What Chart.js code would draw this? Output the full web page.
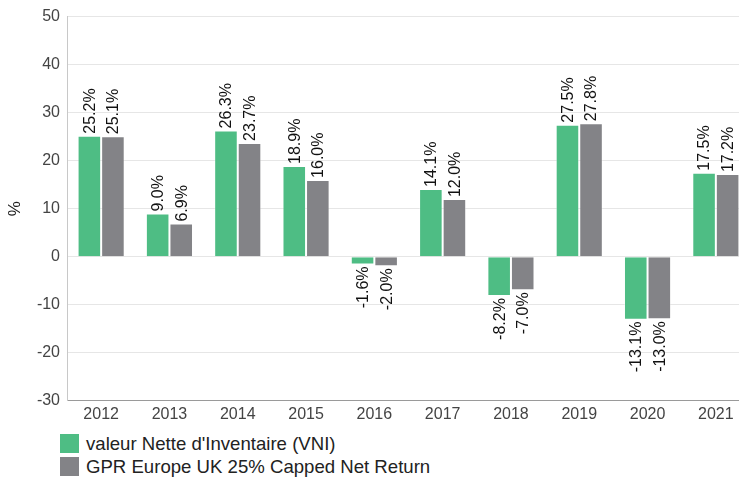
<!DOCTYPE html>
<html>
<head>
<meta charset="utf-8">
<script src="https://cdn.jsdelivr.net/npm/chart.js@4"></script>
<style>
  html, body { margin: 0; padding: 0; background: #fff; overflow: hidden; }
  #wrap { position: relative; width: 750px; height: 478px; }
  #box { position: absolute; left: 0; top: 0; width: 750px; height: 428px; }
  #legend { position: absolute; left: 60px; top: 432px; font-family: "Liberation Sans", Arial, sans-serif; font-size: 18.6px; color: #222; }
  #legend div { display: flex; align-items: center; height: 23px; }
  #legend span.sw { display: inline-block; width: 19px; height: 19px; margin-right: 7px; }
</style>
</head>
<body>
<div id="wrap">
  <div id="box"><canvas id="chart"></canvas></div>
  <div id="legend"></div>
</div>
<script>
const years = ["2012", "2013", "2014", "2015", "2016", "2017", "2018", "2019", "2020", "2021"];
const vni = [25.2, 9.0, 26.3, 18.9, -1.6, 14.1, -8.2, 27.5, -13.1, 17.5];
const gpr = [25.1, 6.9, 23.7, 16.0, -2.0, 12.0, -7.0, 27.8, -13.0, 17.2];
const seriesNames = ["valeur Nette d'Inventaire (VNI)", "GPR Europe UK 25% Capped Net Return"];
const seriesColors = ["#4ebd84", "#838387"];

const fontFamily = '"Liberation Sans", Arial, sans-serif';

// value labels, rotated, above positive bars and below negative ones
const barLabels = {
  id: "barLabels",
  afterDatasetsDraw(chart) {
    const { ctx } = chart;
    ctx.save();
    ctx.font = "16px " + fontFamily;
    ctx.fillStyle = "#111";
    ctx.textBaseline = "middle";
    chart.data.datasets.forEach((ds, i) => {
      chart.getDatasetMeta(i).data.forEach((bar, j) => {
        const v = ds.data[j];
        ctx.save();
        ctx.translate(bar.x, bar.y + (v >= 0 ? -2 : 2));
        ctx.rotate(-Math.PI / 2);
        ctx.textAlign = v >= 0 ? "left" : "right";
        ctx.fillText(v.toFixed(1) + "%", 0, 1);
        ctx.restore();
      });
    });
    ctx.restore();
  },
};

const chart = new Chart(document.getElementById("chart"), {
  type: "bar",
  data: {
    labels: years,
    datasets: [
      { label: seriesNames[0], data: vni, backgroundColor: seriesColors[0], borderColor: "rgba(255,255,255,0.35)", borderWidth: 1 },
      { label: seriesNames[1], data: gpr, backgroundColor: seriesColors[1], borderColor: "rgba(255,255,255,0.35)", borderWidth: 1 },
    ],
  },
  options: {
    responsive: true,
    maintainAspectRatio: false,
    animation: false,
    layout: { padding: { top: 13, right: 0, left: 0, bottom: 0 } },
    datasets: { bar: { categoryPercentage: 0.69, barPercentage: 1.0 } },
    plugins: {
      legend: { display: false },
      tooltip: { enabled: false },
    },
    scales: {
      x: {
        grid: { display: false, drawTicks: false },
        border: { color: "#9a9a9a" },
        ticks: { color: "#444", font: { family: fontFamily, size: 16 }, padding: 4 },
      },
      y: {
        min: -30,
        max: 50,
        afterFit: (s) => { s.width = 67; },
        ticks: { stepSize: 10, color: "#444", font: { family: fontFamily, size: 16 }, padding: 7 },
        grid: { color: "#e6e6e6", drawTicks: false },
        border: { color: "#c8c8c8" },
        title: { display: true, text: "%", color: "#222", font: { family: fontFamily, size: 17 }, padding: { top: 5, bottom: 0 } },
      },
    },
  },
  plugins: [barLabels],
});

const legend = document.getElementById("legend");
chart.data.datasets.forEach((ds) => {
  const row = document.createElement("div");
  const sw = document.createElement("span");
  sw.className = "sw";
  sw.style.background = ds.backgroundColor;
  row.appendChild(sw);
  row.appendChild(document.createTextNode(ds.label));
  legend.appendChild(row);
});
</script>
</body>
</html>
